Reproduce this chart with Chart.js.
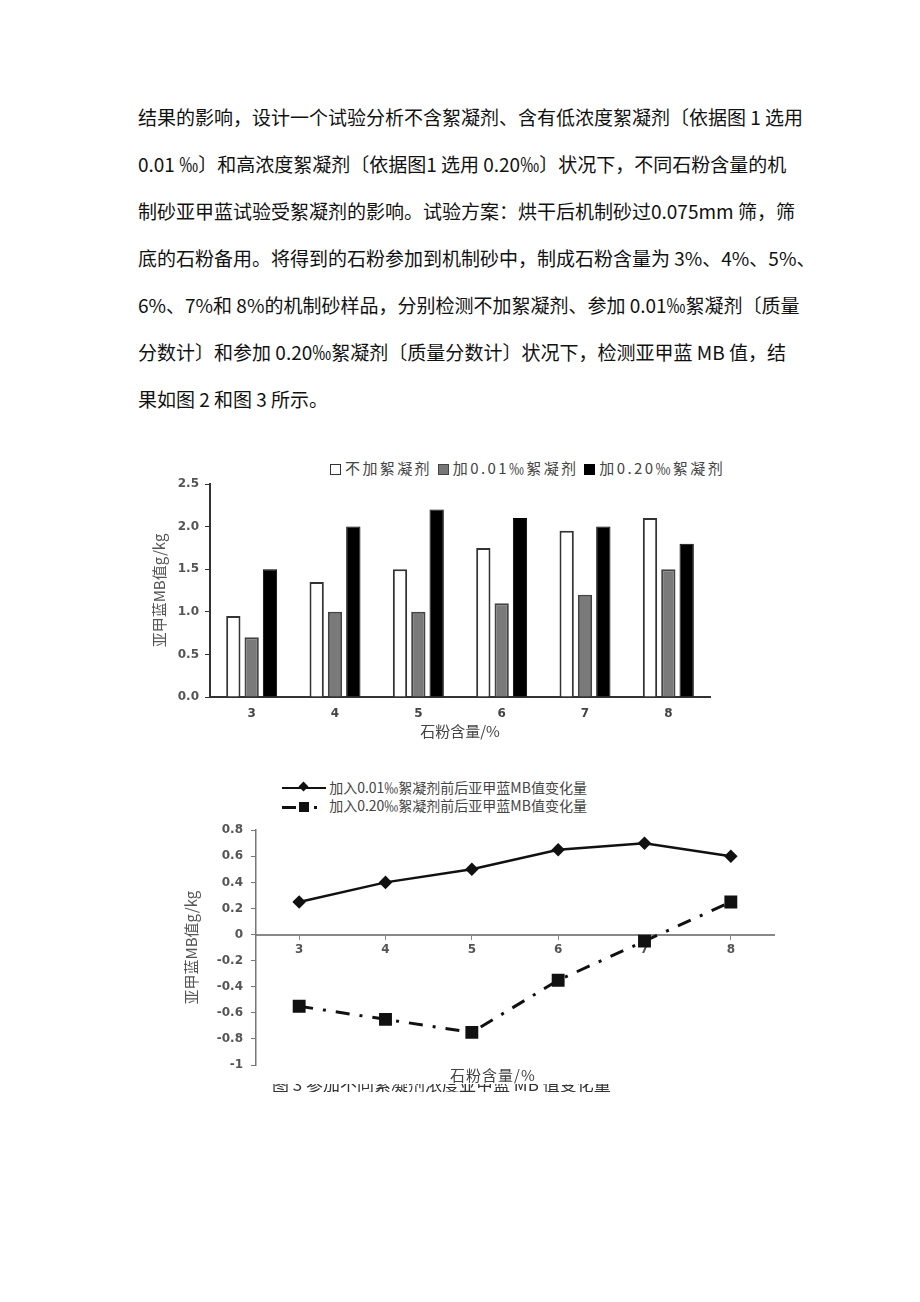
<!DOCTYPE html>
<html>
<head>
<meta charset="utf-8">
<script src="https://cdn.jsdelivr.net/npm/chart.js@4.4.1/dist/chart.umd.min.js"></script>
<style>
  body { margin: 0; background: #fff; width: 920px; height: 1302px; position: relative; overflow: hidden; }
  .para { position: absolute; left: 138px; top: 93px; width: 648px; font-family: "Noto Sans CJK SC", sans-serif; font-size: 19px; color: #111; }
  .para div { height: 47px; line-height: 47px; text-align: justify; text-align-last: justify; white-space: nowrap; }
  .para div.last { text-align-last: left; }
  .box { position: absolute; }
  .legend { position: absolute; font-family: "Noto Sans CJK SC", serif; color: #444; font-size: 13px; white-space: nowrap; }
  .sw { display: inline-block; width: 11px; height: 11px; vertical-align: -1px; margin-right: 4px; box-sizing: border-box; }
  .ttl { position: absolute; font-family: "Noto Sans CJK SC", serif; color: #444; font-size: 15px; white-space: nowrap; letter-spacing: 1px; }
  .cap { position: absolute; left: 272px; top: 1084px; height: 8px; width: 400px; overflow: hidden; }
  .cap span { position: absolute; top: -13px; left: 0; font-family: "Noto Sans CJK SC", sans-serif; font-size: 17px; color: #333; white-space: nowrap; }
</style>
</head>
<body>
<div class="para">
  <div>结果的影响，设计一个试验分析不含絮凝剂、含有低浓度絮凝剂〔依据图 1 选用</div>
  <div>0.01 ‰〕和高浓度絮凝剂〔依据图1 选用 0.20‰〕状况下，不同石粉含量的机</div>
  <div>制砂亚甲蓝试验受絮凝剂的影响。试验方案：烘干后机制砂过0.075mm 筛，筛</div>
  <div>底的石粉备用。将得到的石粉参加到机制砂中，制成石粉含量为 3%、4%、5%、</div>
  <div>6%、7%和 8%的机制砂样品，分别检测不加絮凝剂、参加 0.01‰絮凝剂〔质量</div>
  <div>分数计〕和参加 0.20‰絮凝剂〔质量分数计〕状况下，检测亚甲蓝 MB 值，结</div>
  <div class="last">果如图 2 和图 3 所示。</div>
</div>

<div class="legend" style="left:330px; top:457px; font-size:15px; letter-spacing:2.4px;">
  <span class="sw" style="background:#fff;border:1.5px solid #333;"></span>不加絮凝剂
  <span class="sw" style="background:#777;border:1.5px solid #444;"></span>加0.01‰絮凝剂
  <span class="sw" style="background:#000;"></span>加0.20‰絮凝剂
</div>
<div class="box" style="left:150px; top:452px; width:600px; height:300px;"><canvas id="barChart"></canvas></div>

<div class="legend" style="left:282px; top:778px; line-height:18px; font-size:14px;">
  <div><span style="display:inline-block;width:44px;height:2px;background:#111;vertical-align:4px;position:relative;"><span style="position:absolute;left:18px;top:-4px;width:7px;height:7px;background:#111;transform:rotate(45deg);"></span></span> 加入0.01‰絮凝剂前后亚甲蓝MB值变化量</div>
  <div><span style="display:inline-block;width:44px;height:10px;vertical-align:-1px;position:relative;"><span style="position:absolute;left:0;top:4px;width:14px;height:3px;background:#111;"></span><span style="position:absolute;left:17px;top:0;width:10px;height:10px;background:#111;"></span><span style="position:absolute;left:32px;top:4px;width:3px;height:3px;background:#111;"></span></span> 加入0.20‰絮凝剂前后亚甲蓝MB值变化量</div>
</div>
<div class="box" style="left:160px; top:815px; width:640px; height:275px;"><canvas id="lineChart"></canvas></div>
<div class="ttl" style="left:450px; top:1064px;">石粉含量/%</div>
<div class="cap"><span>图 3 参加不同絮凝剂浓度亚甲蓝 MB 值变化量</span></div>

<script>
// 石粉含量/%
const categories = ['3', '4', '5', '6', '7', '8'];

// 图2 亚甲蓝MB值 g/kg
const noFlocculant = [0.95, 1.35, 1.5, 1.75, 1.95, 2.1];
const floc001 = [0.7, 1.0, 1.0, 1.1, 1.2, 1.5];
const floc020 = [1.5, 2.0, 2.2, 2.1, 2.0, 1.8];

// 图3 加絮凝剂前后 MB 值变化量
const change001 = [0.25, 0.4, 0.5, 0.65, 0.7, 0.6];
const change020 = [-0.55, -0.65, -0.75, -0.35, -0.05, 0.25];

const tickFont = { family: 'DejaVu Sans', size: 12, weight: 'bold' };
const titleFont = { family: 'Noto Sans CJK SC', size: 15 };

new Chart(document.getElementById('barChart'), {
    type: 'bar',
    data: {
        labels: categories,
        datasets: [
            { label: '不加絮凝剂', data: noFlocculant, backgroundColor: '#fff', borderColor: '#333', borderWidth: 2 },
            { label: '加0.01‰絮凝剂', data: floc001, backgroundColor: '#7a7a7a', borderColor: '#444', borderWidth: 2 },
            { label: '加0.20‰絮凝剂', data: floc020, backgroundColor: '#000', borderColor: '#000', borderWidth: 1 }
        ]
    },
    options: {
        responsive: true,
        maintainAspectRatio: false,
        animation: false,
        layout: { padding: { top: 32, right: 40, bottom: 0, left: 0 } },
        datasets: { bar: { categoryPercentage: 0.66, barPercentage: 0.78 } },
        plugins: { legend: { display: false }, tooltip: { enabled: false } },
        scales: {
            x: {
                grid: { display: false },
                border: { color: '#333', width: 2 },
                ticks: { color: '#444', font: tickFont, padding: 2 },
                title: { display: true, text: '石粉含量/%', color: '#444', font: { family: 'Noto Sans CJK SC', size: 15 }, padding: { top: 0, bottom: 12 } },
                afterFit: function (axis) { axis.height = 55; }
            },
            y: {
                min: 0,
                max: 2.5,
                ticks: { stepSize: 0.5, color: '#555', font: tickFont, padding: 6, callback: v => v.toFixed(1) },
                grid: { drawOnChartArea: false, drawTicks: true, tickLength: 5, color: '#333' },
                border: { color: '#333', width: 2 },
                title: { display: true, text: '亚甲蓝MB值g/kg', color: '#555', font: titleFont, padding: 0 },
                afterFit: function (axis) { axis.width = 60; }
            }
        }
    }
});

new Chart(document.getElementById('lineChart'), {
    type: 'line',
    data: {
        labels: categories,
        datasets: [
            {
                label: '加入0.01‰絮凝剂前后亚甲蓝MB值变化量',
                data: change001,
                borderColor: '#111',
                backgroundColor: '#111',
                borderWidth: 2.5,
                pointStyle: 'rectRot',
                pointRadius: 5
            },
            {
                label: '加入0.20‰絮凝剂前后亚甲蓝MB值变化量',
                data: change020,
                borderColor: '#111',
                backgroundColor: '#111',
                borderWidth: 3,
                borderDash: [14, 10, 3, 10],
                pointStyle: 'rect',
                pointRadius: 7
            }
        ]
    },
    options: {
        responsive: true,
        maintainAspectRatio: false,
        animation: false,
        layout: { padding: { top: 8, right: 26, bottom: 25, left: 22 } },
        plugins: { legend: { display: false }, tooltip: { enabled: false } },
        scales: {
            x: {
                offset: true,
                position: { y: 0 },
                grid: { drawOnChartArea: false, drawTicks: true, tickLength: 4, color: '#888' },
                border: { color: '#888', width: 2 },
                ticks: { color: '#555', font: tickFont, padding: 4 }
            },
            y: {
                min: -1,
                max: 0.8,
                ticks: {
                    stepSize: 0.2, color: '#555', font: tickFont, padding: 8,
                    callback: v => Math.abs(v) < 1e-9 ? '0' : String(Math.round(v * 10) / 10)
                },
                grid: { drawOnChartArea: false, drawTicks: true, tickLength: 5, color: '#777' },
                border: { color: '#777', width: 1.5 },
                title: { display: true, text: '亚甲蓝MB值g/kg', color: '#555', font: titleFont, padding: 0 },
                afterFit: function (axis) { axis.width = 74; }
            }
        }
    }
});
</script>
</body>
</html>
